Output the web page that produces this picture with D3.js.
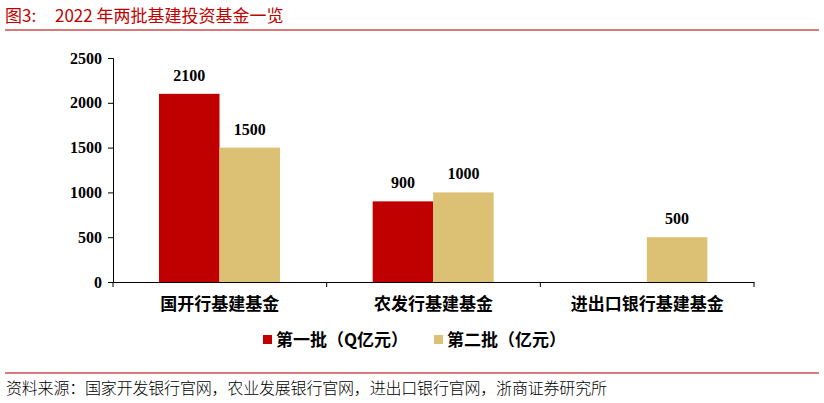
<!DOCTYPE html>
<html><head><meta charset="utf-8">
<script src="https://cdn.jsdelivr.net/npm/d3@7"></script>
<style>body{margin:0;background:#fff}svg{display:block}</style>
</head><body>
<svg id="c" width="824" height="403"></svg>
<script>
const categories = ["国开行基建基金", "农发行基建基金", "进出口银行基建基金"];
const series1 = [2100, 900, null];
const series2 = [1500, 1000, 500];
const seriesNames = ["第一批（Q亿元）", "第二批（亿元）"];
const yTicks = [0, 500, 1000, 1500, 2000, 2500];
const colors = ["#c00000", "#dcc073"];

const svg = d3.select("#c");
const cjk = "'Noto Sans CJK SC', sans-serif";
const serif = "'Liberation Serif', 'Times New Roman', serif";

const title = svg.append("text").attr("y", 22).attr("fill", "#c00000")
  .style("font-family", cjk).style("font-size", "17px");
title.append("tspan").attr("x", 5).text("图3:");
title.append("tspan").attr("x", 55).text("2022 年两批基建投资基金一览");
svg.append("line").attr("x1", 5).attr("x2", 819).attr("y1", 30).attr("y2", 30)
  .attr("stroke", "#d97a7c").attr("stroke-width", 2);
svg.append("line").attr("x1", 5).attr("x2", 819).attr("y1", 373).attr("y2", 373)
  .attr("stroke", "#d97a7c").attr("stroke-width", 2);
svg.append("text").attr("x", 6).attr("y", 394).attr("fill", "#000")
  .style("font-family", cjk).style("font-size", "16px").style("font-weight", 300)
  .attr("textLength", 601)
  .text("资料来源：国家开发银行官网，农业发展银行官网，进出口银行官网，浙商证券研究所");

const x0 = d3.scaleBand().domain(categories).range([113, 754]);
const x1 = d3.scaleBand().domain([0, 1]).range([46, 167]);
const y = d3.scaleLinear().domain([0, 2500]).range([282, 58]);

const gy = svg.append("g").attr("transform", "translate(113,0)")
  .call(d3.axisLeft(y).tickValues(yTicks).tickSize(5).tickFormat(d3.format("d")));
gy.select(".domain").attr("stroke", "#000");
gy.selectAll("text").style("font-family", serif).style("font-size", "16px").style("font-weight", "bold").attr("dx", "-3").attr("fill", "#000");

const gx = svg.append("g").attr("transform", "translate(0,282)")
  .call(d3.axisBottom(x0).tickSize(0).tickFormat(""));
gx.select(".domain").attr("stroke", "#000");
gx.selectAll(".tick").remove();
[113, ...categories.map(c => x0(c) + x0.bandwidth())].forEach(v => {
  svg.append("line").attr("x1", v).attr("x2", v).attr("y1", 282).attr("y2", 287).attr("stroke", "#000");
});
svg.selectAll(".cat").data(categories).enter().append("text")
  .attr("x", d => x0(d) + x0.bandwidth() / 2).attr("y", 310).attr("text-anchor", "middle")
  .style("font-family", cjk).style("font-size", "17px").style("font-weight", "bold").text(d => d);

[series1, series2].forEach((s, i) => {
  const data = categories.map((c, j) => ({c, v: s[j]})).filter(d => d.v != null);
  svg.selectAll(".b" + i).data(data).enter().append("rect")
    .attr("x", d => x0(d.c) + x1(i)).attr("width", x1.bandwidth())
    .attr("y", d => y(d.v)).attr("height", d => y(0) - y(d.v)).attr("fill", colors[i]);
  svg.selectAll(".l" + i).data(data).enter().append("text")
    .attr("x", d => x0(d.c) + x1(i) + x1.bandwidth() / 2).attr("y", d => y(d.v) - 13)
    .attr("text-anchor", "middle").style("font-family", serif).style("font-size", "16px")
    .style("font-weight", "bold").text(d => d.v);
});

const legX = [263, 434];
seriesNames.forEach((n, i) => {
  svg.append("rect").attr("x", legX[i]).attr("y", 335).attr("width", 9).attr("height", 9).attr("fill", colors[i]);
  svg.append("text").attr("x", legX[i] + 13).attr("y", 346)
    .style("font-family", cjk).style("font-size", "17px").style("font-weight", "bold").text(n);
});
</script>
</body></html>
